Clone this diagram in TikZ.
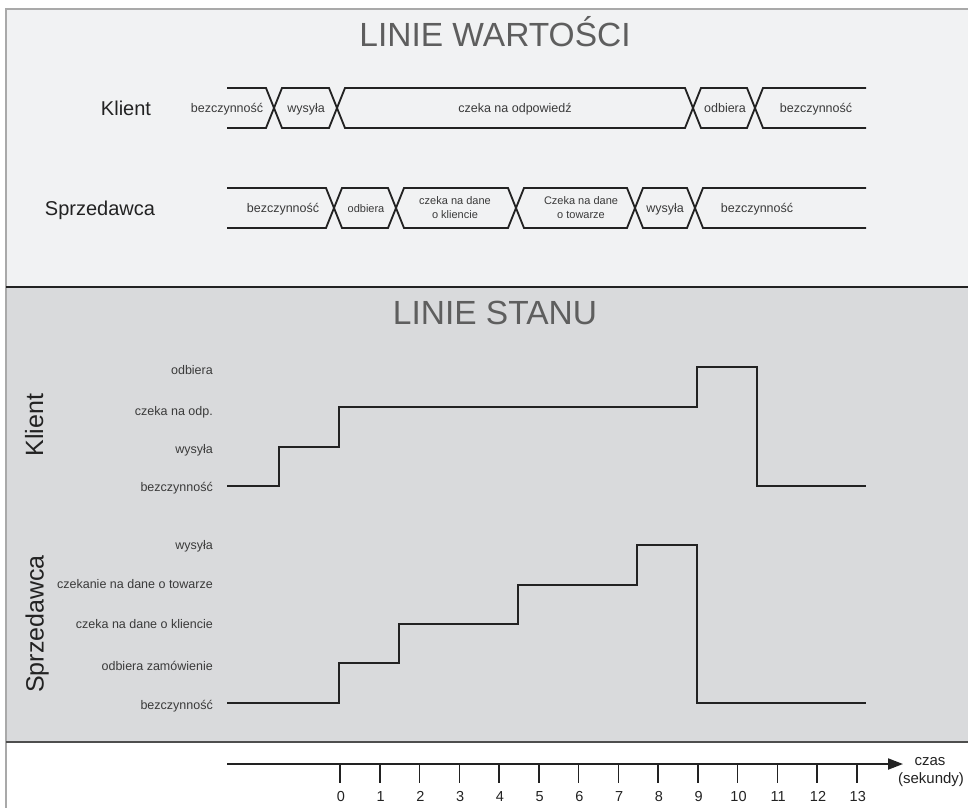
\documentclass[tikz,border=0pt]{standalone}
\usepackage{fontspec}
\setmainfont{Liberation Sans}
\usetikzlibrary{arrows.meta}
\definecolor{toppanel}{HTML}{F1F2F3}
\definecolor{midpanel}{HTML}{D9DADC}
\definecolor{framegray}{HTML}{A9A9A9}
\definecolor{labelgray}{HTML}{3A3A3A}
\definecolor{titlegray}{HTML}{5E5E5E}
\definecolor{linedark}{HTML}{222222}
\tikzset{
  titletext/.style={font=\fontsize{33.5}{36}\selectfont, text=titlegray, inner sep=0pt, anchor=base},
  rowlabel/.style={font=\fontsize{20}{24}\selectfont, text=linedark, inner sep=0pt, anchor=base},
  sidelabel/.style={font=\fontsize{25}{28}\selectfont, text=linedark, inner sep=0pt, anchor=base, rotate=90},
  buslabel/.style={font=\fontsize{12.5}{14}\selectfont, text=labelgray, inner sep=0pt, anchor=base},
  smallbus/.style={font=\fontsize{11}{14}\selectfont, text=labelgray, inner sep=0pt, align=center},
  statelabel/.style={font=\fontsize{12.5}{14}\selectfont, text=labelgray, inner sep=0pt, anchor=base east},
  bus/.style={draw=linedark, line width=1.8pt},
  stateline/.style={draw=linedark, line width=1.8pt},
  tick/.style={draw=linedark, line width=1.5pt},
  ticklabel/.style={font=\fontsize{14.5}{16}\selectfont, text=linedark, inner sep=0pt, anchor=base},
  axislabel/.style={font=\fontsize{15}{17}\selectfont, text=linedark, inner sep=0pt, anchor=base},
}
\begin{document}
\begin{tikzpicture}[x=1pt,y=-1pt]
\useasboundingbox (0,0) rectangle (968,808);
% panels
\fill[white] (0,0) rectangle (968,808);
\fill[toppanel] (6,9) rectangle (968,287);
\fill[midpanel] (6,287) rectangle (968,742);
\draw[framegray, line width=1.5pt] (968,9) -- (6,9) -- (6,808);
\draw[linedark, line width=1.8pt] (6,287) -- (968,287);
\draw[linedark!80, line width=1.2pt] (6,742) -- (968,742);

% titles
\node[titletext] (tWart) at (495,47) {LINIE WARTOŚCI};
\node[titletext] (tStan) at (495,324) {LINIE STANU};

% ---------- value lines ----------
\node[rowlabel] (rK) at (126,115.5) {Klient};
\node[rowlabel] (rS) at (100,215.5) {Sprzedawca};

% Klient bus (center 108, half height 20)
\draw[bus] (227,88) -- (266,88) -- (274,108) -- (266,128) -- (227,128);
\foreach \a/\b in {274/337, 337/693, 693/755}
  \draw[bus] (\a+8,88) -- (\b-8,88) -- (\b,108) -- (\b-8,128) -- (\a+8,128) -- (\a,108) -- cycle;
\draw[bus] (866,88) -- (763,88) -- (755,108) -- (763,128) -- (866,128);

\node[buslabel] (kv1) at (227,112.5) {bezczynność};
\node[buslabel] (kv2) at (306,112.5) {wysyła};
\node[buslabel] (kv3) at (515,112.5) {czeka na odpowiedź};
\node[buslabel] (kv4) at (725,112.5) {odbiera};
\node[buslabel] (kv5) at (816,112.5) {bezczynność};

% Sprzedawca bus (center 208)
\draw[bus] (227,188) -- (326,188) -- (334,208) -- (326,228) -- (227,228);
\foreach \a/\b in {334/396, 396/516, 516/635, 635/695}
  \draw[bus] (\a+8,188) -- (\b-8,188) -- (\b,208) -- (\b-8,228) -- (\a+8,228) -- (\a,208) -- cycle;
\draw[bus] (866,188) -- (703,188) -- (695,208) -- (703,228) -- (866,228);

\node[buslabel] (sv1) at (283,212.5) {bezczynność};
\node[smallbus, anchor=base] (sv2) at (366,212) {odbiera};
\node[smallbus] (sv3) at (455,208) {czeka na dane\\o kliencie};
\node[smallbus] (sv4) at (581,208) {Czeka na dane\\o towarze};
\node[buslabel] (sv5) at (665,212.5) {wysyła};
\node[buslabel] (sv6) at (757,212) {bezczynność};

% ---------- state lines ----------
\node[sidelabel] (sK) at (43,425) {Klient};
\node[sidelabel] (sS) at (43.5,624) {Sprzedawca};

\node[statelabel] (k1) at (213,374.3) {odbiera};
\node[statelabel] (k2) at (213,415.3) {czeka na odp.};
\node[statelabel] (k3) at (213,453.3) {wysyła};
\node[statelabel] (k4) at (213,491) {bezczynność};

\node[statelabel] (s1) at (213,549.3) {wysyła};
\node[statelabel] (s2) at (213,588.3) {czekanie na dane o towarze};
\node[statelabel] (s3) at (213,628.3) {czeka na dane o kliencie};
\node[statelabel] (s4) at (213,670) {odbiera zamówienie};
\node[statelabel] (s5) at (213,709.3) {bezczynność};

\coordinate (kStart) at (227,486);
\coordinate (kEnd) at (866,486);
\draw[stateline] (kStart) -| (279,447) -| (339,407) -| (697,367) -| (757,486) -- (kEnd);

\coordinate (sStart) at (227,703);
\coordinate (sEnd) at (866,703);
\draw[stateline] (sStart) -| (339,663) -| (399,624) -| (518,585) -| (637,545) -| (697,703) -- (sEnd);

% ---------- time axis ----------
\coordinate (axStart) at (227,764);
\coordinate (axEnd) at (903,764);
\draw[draw=linedark, line width=2pt, -{Triangle[length=15pt,width=11pt]}] (axStart) -- (axEnd);
\foreach \t in {0,...,13} {
  \coordinate (tk\t) at ({340+39.75*\t},764);
  \draw[tick] (tk\t) -- ++(0,19);
  \node[ticklabel] (tl\t) at ({341+39.75*\t},801) {\t};
}
\node[axislabel] (czas) at (930,765) {czas};
\node[axislabel] (sek) at (931,783) {(sekundy)};
\end{tikzpicture}
\end{document}
